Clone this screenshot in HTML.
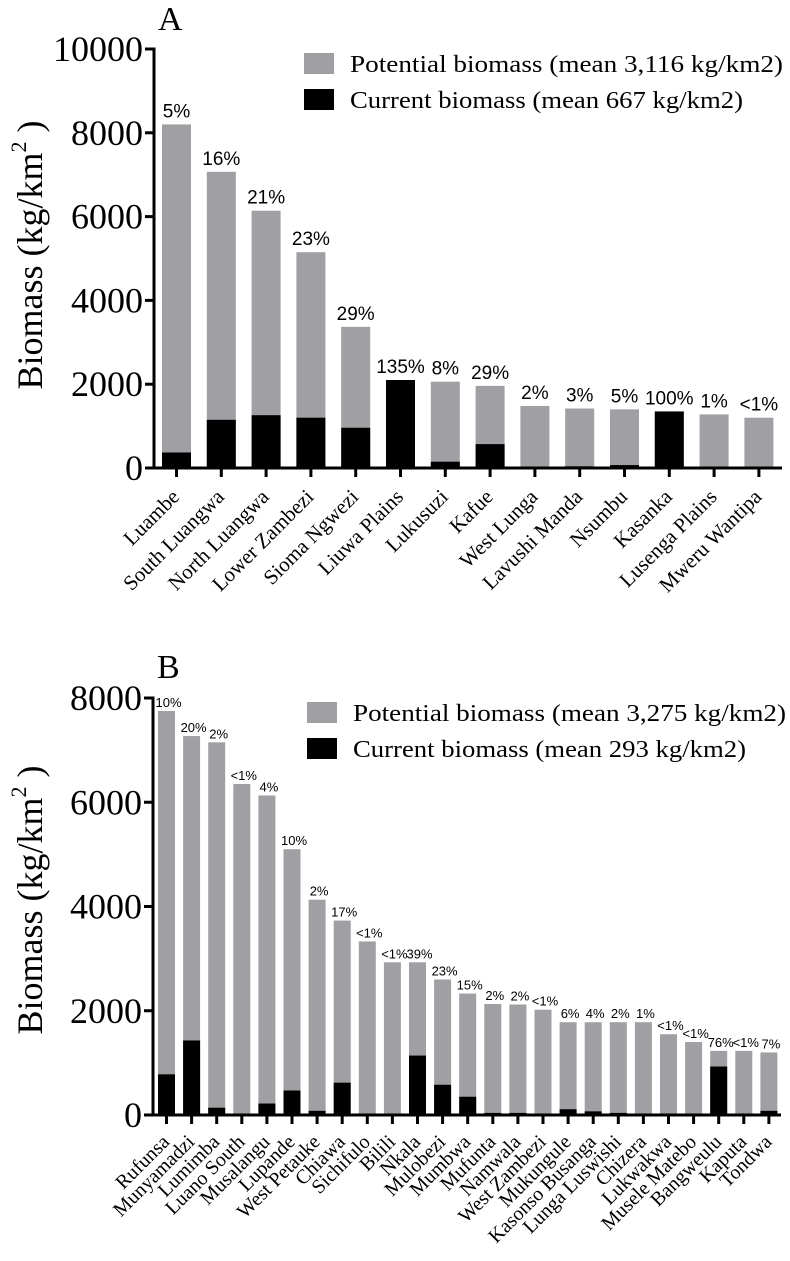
<!DOCTYPE html>
<html><head><meta charset="utf-8"><style>
body{margin:0;background:#fff}
svg{display:block}
.ser{font-family:"Liberation Serif",serif}
.san{font-family:"Liberation Sans",sans-serif}
</style></head><body>
<svg id="chart" width="790" height="1261" viewBox="0 0 790 1261" xmlns="http://www.w3.org/2000/svg"></svg>
<script>
const catsA=["Luambe","South Luangwa","North Luangwa","Lower Zambezi","Sioma Ngwezi","Liuwa Plains","Lukusuzi","Kafue","West Lunga","Lavushi Manda","Nsumbu","Kasanka","Lusenga Plains","Mweru Wantipa"];
const potA=[8200,7070,6140,5150,3370,1550,2060,1960,1480,1420,1400,1350,1280,1200];
const curA=[370,1150,1260,1200,960,2100,150,570,30,40,70,1350,13,5];
const pctA=["5%","16%","21%","23%","29%","135%","8%","29%","2%","3%","5%","100%","1%","<1%"];
const ticksA=[0,2000,4000,6000,8000,10000];
const catsB=["Rufunsa","Munyamadzi","Lumimba","Luano South","Musalangu","Lupande","West Petauke","Chiawa","Sichifulo","Bilili","Nkala","Mulobezi","Mumbwa","Mufunta","Namwala","West Zambezi","Mukungule","Kasonso Busanga","Lunga Luswishi","Chizera","Lukwakwa","Musele Matebo","Bangweulu","Kaputa","Tondwa"];
const potB=[7750,7270,7150,6350,6130,5100,4130,3730,3330,2930,2930,2600,2330,2130,2120,2020,1780,1780,1780,1780,1550,1400,1230,1230,1200];
const curB=[780,1430,140,20,220,470,80,620,20,20,1140,580,350,40,40,20,110,70,40,20,15,10,930,10,80];
const pctB=["10%","20%","2%","<1%","4%","10%","2%","17%","<1%","<1%","39%","23%","15%","2%","2%","<1%","6%","4%","2%","1%","<1%","<1%","76%","<1%","7%"];
const ticksB=[0,2000,4000,6000,8000];

const NS="http://www.w3.org/2000/svg";
const svg=document.getElementById('chart');
function mk(tag,attrs,parent,text){const e=document.createElementNS(NS,tag);for(const k in attrs)e.setAttribute(k,attrs[k]);if(text!==undefined)e.textContent=text;(parent||svg).appendChild(e);return e;}

function panel(cfg){
  const g=mk('g',{});
  
  
  const y=v=>cfg.y0-(v/cfg.max)*(cfg.y0-cfg.yTop);
  const x=i=>cfg.x0+i*cfg.step;
  cfg.cats.forEach((c,i)=>{
    const p=mk('rect',{x:x(i),y:y(cfg.pot[i]),width:cfg.bw,height:cfg.y0-y(cfg.pot[i]),fill:'#a0a0a4'},g);
    
    
    const b=mk('rect',{x:x(i),y:y(cfg.cur[i]),width:cfg.bw,height:cfg.y0-y(cfg.cur[i]),fill:'#000'},g);
    
    
    const top=Math.max(cfg.pot[i],cfg.cur[i]);
    const t=mk('text',{x:x(i)+cfg.bw/2+cfg.pctDx,y:y(top)-cfg.pctGap,'font-size':cfg.pctSize,'text-anchor':'middle',class:'san'},g,cfg.pct[i]);
    
    
    const cx=x(i)+cfg.bw/2;
    mk('line',{x1:cx,x2:cx,y1:cfg.y0,y2:cfg.y0+9,stroke:'#000','stroke-width':3},g);
    const lx=cx+cfg.labDx, ly=cfg.y0+cfg.labDy;
    const l=mk('text',{x:lx,y:ly,'font-size':cfg.labSize,'text-anchor':'end',class:'ser',transform:`rotate(-45 ${lx} ${ly})`},g,c);
    
    
  });
  mk('line',{x1:cfg.ax,x2:cfg.ax,y1:cfg.yTop-1.5,y2:cfg.y0+1.5,stroke:'#000','stroke-width':3},g);
  mk('line',{x1:cfg.ax,x2:cfg.axEnd,y1:cfg.y0,y2:cfg.y0,stroke:'#000','stroke-width':3},g);
  cfg.ticks.forEach(v=>{
    mk('line',{x1:cfg.ax-9,x2:cfg.ax,y1:y(v),y2:y(v),stroke:'#000','stroke-width':3},g);
    const t=mk('text',{x:cfg.ax-11,y:y(v)+12,'font-size':36,'text-anchor':'end',class:'ser'},g,String(v));
    
    
  });
  const yt=mk('text',{x:0,y:0,'font-size':36,'text-anchor':'middle',class:'ser',transform:`translate(42 ${cfg.titleY}) rotate(-90)`},g);
  
  
  mk('tspan',{},yt,'Biomass (kg/km');
  mk('tspan',{dy:-16,'font-size':22},yt,'2');
  mk('tspan',{dy:16},yt,' )');
  const pl=mk('text',{x:cfg.ax+4,y:cfg.letterY,'font-size':34,class:'ser'},g,cfg.letter);
  
  
  const lg=mk('g',{},g);
  
  
  mk('rect',{x:cfg.legX,y:cfg.legY,width:30,height:21,fill:'#a0a0a4'},lg);
  mk('rect',{x:cfg.legX,y:cfg.legY+36,width:30,height:21,fill:'#000'},lg);
  mk('text',{x:cfg.legX+46,y:cfg.legY+19,'font-size':24,class:'ser',textLength:cfg.legW1,lengthAdjust:'spacingAndGlyphs'},lg,cfg.leg1);
  mk('text',{x:cfg.legX+46,y:cfg.legY+55,'font-size':24,class:'ser',textLength:cfg.legW2,lengthAdjust:'spacingAndGlyphs'},lg,cfg.leg2);
}

panel({name:'panel-a',letter:'A',letterY:30,cats:catsA,pot:potA,cur:curA,pct:pctA,ticks:ticksA,max:10000,
  y0:468,yTop:49,x0:162,step:44.8,bw:29,ax:154,axEnd:782,pctSize:19,pctGap:7,pctDx:0,labSize:21,labDx:4,labDy:30,titleY:255,
  legX:304,legY:53,leg1:'Potential biomass (mean 3,116 kg/km2)',leg2:'Current biomass (mean 667 kg/km2)',legW1:433,legW2:393});
panel({name:'panel-b',letter:'B',letterY:678,cats:catsB,pot:potB,cur:curB,pct:pctB,ticks:ticksB,max:8000,
  y0:1115,yTop:698,x0:158,step:25.1,bw:17,ax:153,axEnd:781,pctSize:13,pctGap:4,pctDx:2,labSize:20,labDx:4,labDy:28,titleY:900,
  legX:307,legY:702,leg1:'Potential biomass (mean 3,275 kg/km2)',leg2:'Current biomass (mean 293 kg/km2)',legW1:433,legW2:393});
</script>
</body></html>
